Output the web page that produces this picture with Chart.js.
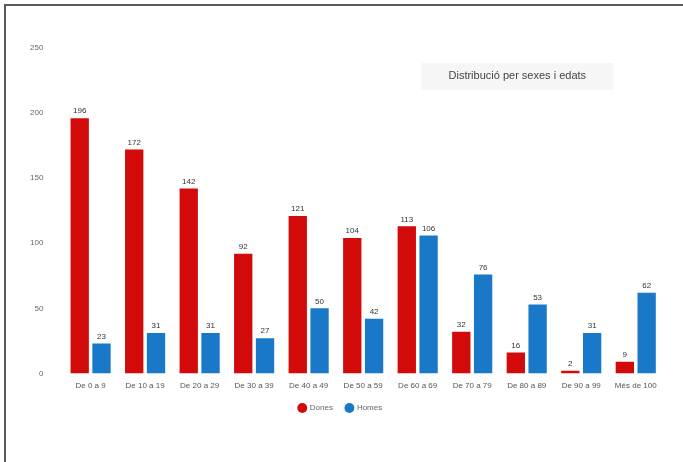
<!DOCTYPE html>
<html>
<head>
<meta charset="utf-8">
<script src="https://cdn.jsdelivr.net/npm/chart.js@4"></script>
<style>
  html, body { margin: 0; padding: 0; background: #fff; }
  #frame {
    position: absolute; left: 4px; top: 4px; width: 700px; height: 470px;
    border-left: 2px solid #5a5a5a; border-top: 2px solid #5a5a5a;
  }
  #wrap { position: absolute; left: 0; top: 0; width: 683px; height: 462px; }
</style>
</head>
<body>
<div id="frame"></div>
<div id="wrap"><canvas id="chart"></canvas></div>
<script>
const ageGroups = ['De 0 a 9', 'De 10 a 19', 'De 20 a 29', 'De 30 a 39', 'De 40 a 49', 'De 50 a 59',
  'De 60 a 69', 'De 70 a 79', 'De 80 a 89', 'De 90 a 99', 'Més de 100']
const dones = [196, 172, 142, 92, 121, 104, 113, 32, 16, 2, 9]
const homes = [23, 31, 31, 27, 50, 42, 106, 76, 53, 31, 62]
const yTicks = [0, 50, 100, 150, 200, 250]
const chartTitle = 'Distribució per sexes i edats'

// numbers over every bar
const valueLabels = {
  id: 'valueLabels',
  afterDatasetsDraw(chart) {
    const ctx = chart.ctx
    ctx.save()
    ctx.font = '8px "Liberation Sans", sans-serif'
    ctx.fillStyle = '#333'
    ctx.textAlign = 'center'
    ctx.textBaseline = 'bottom'
    chart.data.datasets.forEach((ds, i) => {
      chart.getDatasetMeta(i).data.forEach((bar, j) => {
        ctx.fillText(ds.data[j], bar.x, bar.y - 3)
      })
    })
    ctx.restore()
  }
}

// title box sitting inside the plot, top right
const boxTitle = {
  id: 'boxTitle',
  afterDraw(chart) {
    const ctx = chart.ctx
    const a = chart.chartArea
    const cx = a.left + (a.right - a.left) * 0.757
    const cy = a.top + 28
    ctx.save()
    ctx.fillStyle = 'rgba(238,238,238,0.55)'
    ctx.fillRect(cx - 96, cy - 13, 192, 27)
    ctx.font = '11px "Liberation Sans", sans-serif'
    ctx.fillStyle = '#444'
    ctx.textAlign = 'center'
    ctx.textBaseline = 'middle'
    ctx.fillText(chartTitle, cx, cy)
    ctx.restore()
  }
}

new Chart(document.getElementById('chart').getContext('2d'), {
  type: 'bar',
  data: {
    labels: ageGroups,
    datasets: [
      { label: 'Dones', data: dones, backgroundColor: '#d20a0a', borderWidth: 0,
        barPercentage: 0.84, categoryPercentage: 0.8 },
      { label: 'Homes', data: homes, backgroundColor: '#1a78c8', borderWidth: 0,
        barPercentage: 0.84, categoryPercentage: 0.8 }
    ]
  },
  options: {
    responsive: true,
    maintainAspectRatio: false,
    animation: false,
    layout: { padding: { left: 18, right: 20, top: 48, bottom: 40 } },
    plugins: {
      legend: {
        position: 'bottom',
        labels: {
          usePointStyle: true, pointStyle: 'circle', boxWidth: 7, boxHeight: 7,
          font: { size: 8, family: '"Liberation Sans", sans-serif' }, color: '#666', padding: 13
        }
      },
      tooltip: { enabled: false }
    },
    scales: {
      x: {
        grid: { display: false }, border: { display: false },
        ticks: { font: { size: 8, family: '"Liberation Sans", sans-serif' }, color: '#555',
          maxRotation: 0, autoSkip: false, padding: 0 }
      },
      y: {
        min: 0, max: 250,
        grid: { display: false }, border: { display: false },
        afterBuildTicks: axis => { axis.ticks = yTicks.map(v => ({ value: v })) },
        ticks: { font: { size: 8, family: '"Liberation Sans", sans-serif' }, color: '#666', padding: 12 }
      }
    }
  },
  plugins: [valueLabels, boxTitle]
})
</script>
</body>
</html>
